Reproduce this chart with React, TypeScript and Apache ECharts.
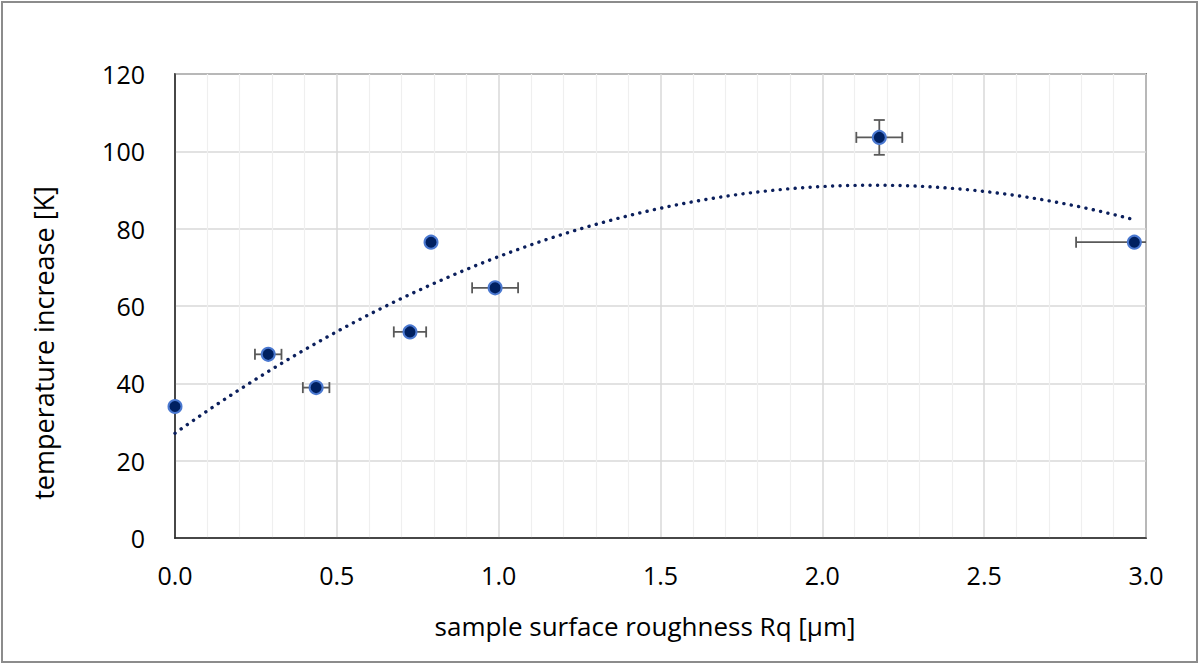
import React, { useEffect, useRef } from "react";
import * as echarts from "echarts";

// Measured data: roughness Rq [µm], temperature increase [K], and error bars
const roughness = [0, 0.288, 0.436, 0.726, 0.791, 0.989, 2.176, 2.964];
const tempIncrease = [34, 47.5, 38.9, 53.3, 76.5, 64.7, 103.6, 76.5];
const roughnessErr = [0, 0.041, 0.041, 0.05, 0, 0.071, 0.071, 0.18];
const tempErr = [0, 0, 0, 0, 0, 0, 4.5, 0];

const xTitle = "sample surface roughness Rq [µm]";
const yTitle = "temperature increase [K]";

// Least-squares quadratic fit (like a spreadsheet polynomial trendline)
function quadFit(xs: number[], ys: number[]): [number, number, number] {
  let s0 = 0, s1 = 0, s2 = 0, s3 = 0, s4 = 0, t0 = 0, t1 = 0, t2 = 0;
  for (let i = 0; i < xs.length; i++) {
    const x = xs[i], y = ys[i];
    s0 += 1; s1 += x; s2 += x * x; s3 += x * x * x; s4 += x * x * x * x;
    t0 += y; t1 += x * y; t2 += x * x * y;
  }
  const M = [
    [s0, s1, s2, t0],
    [s1, s2, s3, t1],
    [s2, s3, s4, t2],
  ];
  for (let c = 0; c < 3; c++) {
    let p = c;
    for (let r = c + 1; r < 3; r++) if (Math.abs(M[r][c]) > Math.abs(M[p][c])) p = r;
    [M[c], M[p]] = [M[p], M[c]];
    for (let r = 0; r < 3; r++) {
      if (r === c) continue;
      const f = M[r][c] / M[c][c];
      for (let k = c; k < 4; k++) M[r][k] -= f * M[c][k];
    }
  }
  return [M[0][3] / M[0][0], M[1][3] / M[1][1], M[2][3] / M[2][2]];
}

export default function App() {
  const ref = useRef<HTMLDivElement>(null);

  useEffect(() => {
    document.body.style.margin = "0";
    if (!ref.current) return;
    const chart = echarts.init(ref.current, null, { renderer: "svg" });

    const [a, b, c] = quadFit(roughness, tempIncrease);
    const xMin = Math.min(...roughness);
    const xMax = Math.max(...roughness);
    const steps = 80;
    const trend: number[][] = [];
    for (let i = 0; i <= steps; i++) {
      const x = xMin + ((xMax - xMin) * i) / steps;
      trend.push([x, a + b * x + c * x * x]);
    }

    const points = roughness.map((x, i) => [x, tempIncrease[i]]);
    const errData = roughness.map((x, i) => [x, tempIncrease[i], roughnessErr[i], tempErr[i]]);

    const font = "'Open Sans', 'Noto Sans', sans-serif";
    const errColor = "#595959";

    chart.setOption({
      animation: false,
      backgroundColor: "#ffffff",
      textStyle: { fontFamily: font },
      graphic: [
        {
          type: "rect",
          shape: { x: 2, y: 2, width: 1195, height: 660 },
          style: { fill: "none", stroke: "#8c8c8c", lineWidth: 2 },
          silent: true,
          z: -10,
        },
        {
          type: "text",
          x: 645,
          y: 626,
          style: {
            text: xTitle,
            fontSize: 26,
            fontFamily: font,
            fill: "#000",
            align: "center",
            verticalAlign: "middle",
          },
          silent: true,
        },
        {
          type: "text",
          x: 43,
          y: 343,
          rotation: Math.PI / 2,
          style: {
            text: yTitle,
            fontSize: 27,
            fontFamily: font,
            fill: "#000",
            align: "center",
            verticalAlign: "middle",
          },
          silent: true,
        },
      ],
      grid: {
        left: 175,
        right: 54,
        top: 74,
        bottom: 127,
        show: true,
        borderColor: "#222222",
        borderWidth: 1.5,
      },
      xAxis: {
        type: "value",
        min: 0,
        max: 3,
        interval: 0.5,
        axisLine: { show: true, lineStyle: { color: "#222", width: 1.5 } },
        axisTick: { show: false },
        axisLabel: {
          fontSize: 25,
          color: "#000",
          margin: 24,
          fontFamily: font,
          formatter: (v: number) => v.toFixed(1),
        },
        splitLine: { show: true, lineStyle: { color: "#d9d9d9", width: 1.5 } },
        minorTick: { show: false, splitNumber: 5 },
        minorSplitLine: { show: true, lineStyle: { color: "#efefef", width: 1.2 } },
      },
      yAxis: {
        type: "value",
        min: 0,
        max: 120,
        interval: 20,
        axisLine: { show: true, lineStyle: { color: "#222", width: 1.5 } },
        axisTick: { show: false },
        axisLabel: { fontSize: 25, color: "#000", margin: 30, fontFamily: font },
        splitLine: { show: true, lineStyle: { color: "#d9d9d9", width: 1.5 } },
      },
      series: [
        {
          type: "line",
          data: trend,
          showSymbol: false,
          smooth: false,
          silent: true,
          z: 2,
          lineStyle: { color: "#0b1f5c", width: 3.4, type: [0.1, 7.4], cap: "round" },
        },
        {
          type: "custom",
          data: errData,
          clip: true,
          z: 3,
          renderItem: (params: any, api: any) => {
            const x = api.value(0);
            const y = api.value(1);
            const dx = api.value(2);
            const dy = api.value(3);
            const cap = 5.5;
            const children: any[] = [];
            const st = { stroke: errColor, lineWidth: 1.8 };
            if (dx > 0) {
              const l = api.coord([x - dx, y]);
              const r = api.coord([x + dx, y]);
              children.push({ type: "line", shape: { x1: l[0], y1: l[1], x2: r[0], y2: r[1] }, style: st });
              children.push({ type: "line", shape: { x1: l[0], y1: l[1] - cap, x2: l[0], y2: l[1] + cap }, style: st });
              children.push({ type: "line", shape: { x1: r[0], y1: r[1] - cap, x2: r[0], y2: r[1] + cap }, style: st });
            }
            if (dy > 0) {
              const t = api.coord([x, y + dy]);
              const bt = api.coord([x, y - dy]);
              children.push({ type: "line", shape: { x1: t[0], y1: t[1], x2: bt[0], y2: bt[1] }, style: st });
              children.push({ type: "line", shape: { x1: t[0] - cap, y1: t[1], x2: t[0] + cap, y2: t[1] }, style: st });
              children.push({ type: "line", shape: { x1: bt[0] - cap, y1: bt[1], x2: bt[0] + cap, y2: bt[1] }, style: st });
            }
            return { type: "group", children };
          },
        },
        {
          type: "scatter",
          data: points,
          symbol: "circle",
          symbolSize: 13,
          z: 4,
          clip: false,
          itemStyle: { color: "#002060", borderColor: "#4a78d0", borderWidth: 2, opacity: 1 },
        },
      ],
    });

    return () => chart.dispose();
  }, []);

  return <div ref={ref} style={{ width: 1200, height: 665 }} />;
}
